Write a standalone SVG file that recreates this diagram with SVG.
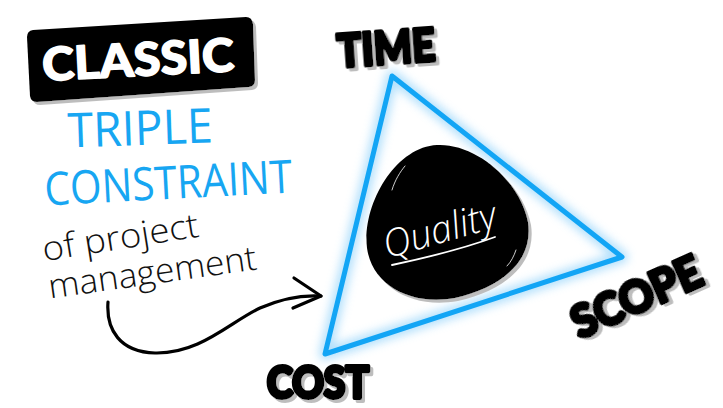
<svg xmlns="http://www.w3.org/2000/svg" width="723" height="408" viewBox="0 0 723 408">
  <defs>
    <filter id="glow" x="-20%" y="-20%" width="140%" height="140%">
      <feGaussianBlur stdDeviation="5"/>
    </filter>
    <filter id="shadow" x="-10%" y="-10%" width="125%" height="130%">
      <feDropShadow dx="3" dy="3" stdDeviation="0.6" flood-color="#bdbdbd" flood-opacity="1"/>
    </filter>
    <style>
      .bubble { font-family: Lato, "Liberation Sans", sans-serif; font-weight: 900; fill: #000; stroke: #000; stroke-width: 4; stroke-linejoin: round; filter: url(#shadow); }
      .blue { font-family: "Open Sans", "Noto Sans", sans-serif; font-weight: 400; fill: #17a6f2; }
      .hand { font-family: "Open Sans", "Noto Sans", sans-serif; font-weight: 300; fill: #111; }
      .tri { fill: none; stroke-linejoin: round; stroke-linecap: round; }
      .shine { fill: none; stroke: #fff; stroke-width: 1; stroke-linecap: round; opacity: 0.8; }
    </style>
  </defs>
  <rect width="723" height="408" fill="#fff"/>

  <!-- title block -->
  <g id="title-classic">
    <path d="M33,30 L246,17 Q252,17 253,24 L255,80 Q255,86 249,87 L37,102 Q31,102 30,96 L27,37 Q27,31 33,30 Z" fill="#000" filter="url(#shadow)"/>
    <text x="138" y="76" text-anchor="middle" font-family="Lato, 'Liberation Sans', sans-serif" font-weight="900" font-size="46" fill="#fff" stroke="#fff" stroke-width="1.5" stroke-linejoin="round" textLength="192" lengthAdjust="spacingAndGlyphs" transform="rotate(-3 138 60)">CLASSIC</text>
  </g>

  <g id="title-triple">
    <text class="blue" x="140" y="145" text-anchor="middle" font-size="48" textLength="145" lengthAdjust="spacingAndGlyphs" transform="rotate(-2 140 125)">TRIPLE</text>
  </g>
  <g id="title-constraint">
    <text class="blue" x="168" y="199" text-anchor="middle" font-size="46" textLength="248" lengthAdjust="spacingAndGlyphs" transform="rotate(-3 168 180)">CONSTRAINT</text>
  </g>

  <g id="subtitle">
    <text class="hand" x="120" y="249" text-anchor="middle" font-size="34" textLength="158" lengthAdjust="spacingAndGlyphs" transform="rotate(-9 120 235)">of project</text>
    <text class="hand" x="152" y="284" text-anchor="middle" font-size="34" textLength="210" lengthAdjust="spacingAndGlyphs" transform="rotate(-8 152 270)">management</text>
  </g>

  <!-- connectors -->
  <g id="connectors" fill="none" stroke="#000" stroke-width="3.2" stroke-linecap="round" stroke-linejoin="round">
    <path d="M108,302 C106,330 120,352 155,353 C200,354 230,322 260,308 C285,297 305,295 321,296"/>
    <path d="M294,278 L321,296 L293,308"/>
  </g>

  <!-- triangle -->
  <g id="triangle">
    <path class="tri" d="M392,76 L622,257 L325,354 Z" stroke="#9fd8fb" stroke-width="12" opacity="0.8" filter="url(#glow)"/>
    <path class="tri" d="M392,76 L622,257 L325,354 Z" stroke="#12a5f5" stroke-width="5"/>
  </g>

  <!-- quality stone -->
  <g id="quality">
    <path d="M437,145 C475,143 520,180 528,222 C534,262 500,288 455,298 C410,306 372,285 367,248 C362,205 395,147 437,145 Z" fill="#000" filter="url(#shadow)"/>
    <path class="shine" d="M392,190 C395,180 400,172 405,166"/>
    <path class="shine" d="M516,250 C514,256 511,262 507,266"/>
    <text x="440" y="243" text-anchor="middle" font-family="'Open Sans', 'Noto Sans', sans-serif" font-weight="300" font-style="italic" font-size="38" fill="#fff" textLength="116" lengthAdjust="spacingAndGlyphs" transform="rotate(-16 440 232)">Quality</text>
    <path d="M392,265 C425,258 465,248 495,237" fill="none" stroke="#fff" stroke-width="1.8" stroke-linecap="round"/>
  </g>

  <!-- corner labels -->
  <g id="time">
    <text class="bubble" x="386" y="64" text-anchor="middle" font-size="46" textLength="98" lengthAdjust="spacingAndGlyphs" transform="rotate(-4 386 45)">TIME</text>
  </g>
  <g id="cost">
    <text class="bubble" x="318" y="398" text-anchor="middle" font-size="44" textLength="102" lengthAdjust="spacingAndGlyphs">COST</text>
  </g>
  <g id="scope">
    <text class="bubble" x="636" y="313" text-anchor="middle" font-size="46" textLength="138" lengthAdjust="spacingAndGlyphs" transform="rotate(-24 636 296)">SCOPE</text>
  </g>
</svg>
